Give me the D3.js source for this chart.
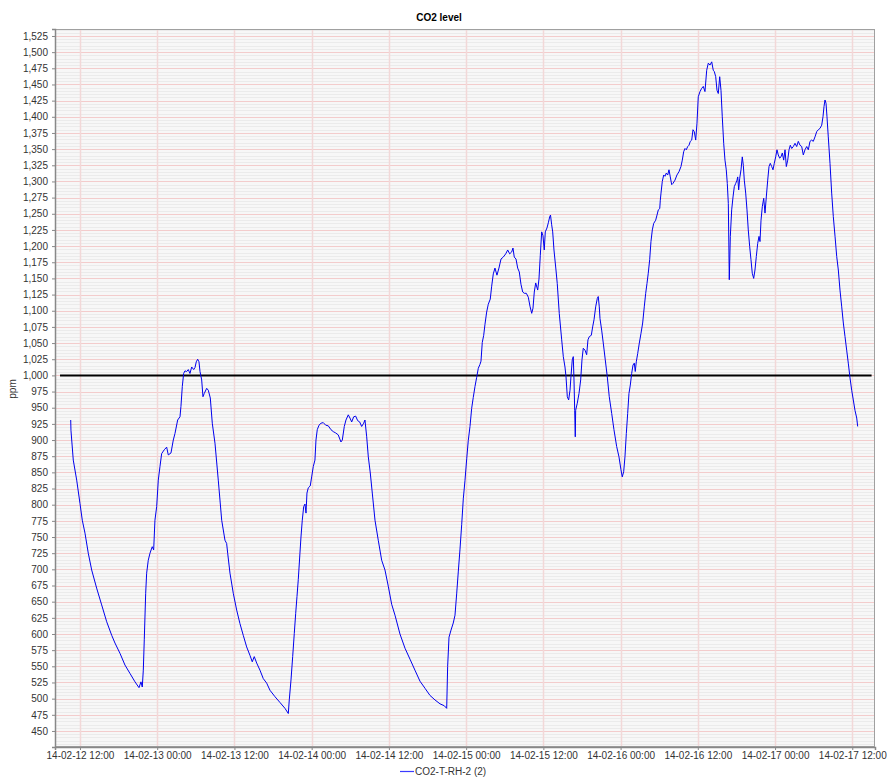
<!DOCTYPE html>
<html><head><meta charset="utf-8">
<script src="https://cdn.jsdelivr.net/npm/d3@7"></script>
<style>body{margin:0;background:#fff;} svg{display:block;font-family:"Liberation Sans",Arial,sans-serif;}</style>
</head><body><svg id="c" width="887" height="778"></svg>
<script>
const chartTitle = "CO2 level";
const seriesName = "CO2-T-RH-2 (2)";
const yAxisLabel = "ppm";
// hours since 2014-02-12 00:00
const hours = [10.56,10.60,10.96,11.49,12.00,12.36,12.78,13.29,13.82,14.59,15.37,16.15,16.93,17.44,18.22,18.99,19.77,20.55,21.17,21.48,21.68,21.84,21.99,22.21,22.36,22.61,22.88,23.23,23.45,23.65,23.92,24.17,24.43,24.69,25.10,25.47,25.72,26.14,26.50,26.76,27.18,27.54,27.69,27.90,28.11,28.31,28.58,28.83,29.09,29.36,29.67,29.87,30.07,30.29,30.49,30.65,30.91,31.11,31.31,31.69,31.94,32.25,32.56,
32.98,33.49,34.02,34.53,34.79,34.95,35.31,35.82,36.35,36.86,37.37,37.90,38.41,38.77,39.08,39.46,39.97,40.48,41.01,41.52,42.30,43.08,43.85,44.37,44.52,44.79,45.05,45.30,45.52,45.72,45.92,46.18,46.34,46.54,46.76,46.96,47.12,47.27,47.47,47.78,48.00,48.25,48.51,48.67,48.87,49.14,49.45,49.80,50.18,50.58,51.00,51.36,51.73,52.13,52.55,52.76,53.07,53.33,53.69,53.95,54.22,54.53,54.84,55.15,55.46,55.77,56.08,56.28,56.55,56.80,57.11,57.42,57.84,58.35,58.88,
59.39,59.90,60.43,60.95,61.72,62.50,63.28,64.05,64.83,65.61,66.38,67.16,67.94,68.61,68.98,69.13,69.34,69.65,70.00,70.27,70.53,70.78,71.04,71.31,71.56,71.82,72.09,72.33,72.60,72.86,73.11,73.38,73.64,73.89,74.15,74.31,74.51,74.73,74.93,75.19,75.44,75.75,75.97,76.22,76.48,76.79,77.10,77.42,77.77,78.15,78.46,78.77,79.08,79.28,79.48,79.75,80.01,80.26,80.52,80.79,81.04,81.35,81.66,81.92,82.19,82.39,82.59,82.81,83.12,83.32,83.52,83.74,83.94,84.14,84.30,84.56,84.77,84.98,
85.11,85.29,85.45,85.65,85.96,86.16,86.47,86.85,87.10,87.36,87.52,87.72,87.93,88.14,88.29,88.49,88.65,88.76,88.87,88.96,89.02,89.27,89.54,89.80,90.00,90.20,90.47,90.73,90.93,91.14,91.45,91.66,91.87,92.13,92.38,92.53,92.69,92.80,93.06,93.31,93.62,93.93,94.24,94.62,94.97,95.39,
95.75,96.06,96.26,96.48,96.68,96.89,97.10,97.30,97.51,97.72,97.93,98.13,98.28,98.44,98.66,98.91,99.17,99.43,99.68,99.90,100.10,100.30,100.52,100.72,100.93,101.14,101.45,101.66,101.86,102.08,102.17,102.28,102.48,102.70,102.90,103.10,103.32,103.52,103.72,103.94,104.14,104.45,104.76,105.07,105.38,105.59,105.80,106.01,106.21,106.43,106.63,106.83,107.05,107.25,107.45,107.67,107.87,108.07,108.34,108.60,108.85,109.11,
109.38,109.63,109.89,110.16,110.40,110.56,110.78,110.98,111.18,111.40,111.60,111.80,112.02,112.22,112.42,112.58,112.74,112.89,113.05,113.26,113.47,113.67,113.89,114.09,114.20,114.35,114.51,114.71,114.91,115.07,115.22,115.44,115.64,115.84,116.06,116.26,116.46,116.68,116.88,117.09,117.30,117.51,117.66,117.82,118.02,118.24,118.44,118.64,118.86,119.06,119.26,119.48,119.68,119.88,120.10,120.30,120.50,120.72,120.92,121.13,121.34,121.55,121.75,121.97,122.17,122.37,122.59,122.84,123.10,123.36,123.61,123.88,124.14,124.39,124.65,124.92,125.17,125.43,125.69,125.94,126.21,126.47,126.72,126.98,127.25,127.45,127.61,127.76,127.92,128.07,128.27,128.54,128.80,129.05,129.32,129.58,129.83,130.09,130.36,130.61,130.87,131.13,131.38,131.65,131.91,132.16,132.42,132.69,132.84];
const ppm = [931,915,869,838,802,776,756,725,699,671,645,619,598,586,570,552,539,526,517,526,518,544,591,663,694,714,725,735,730,776,797,838,859,879,885,889,877,880,900,910,931,936,952,983,1003,1007,1006,1009,1003,1013,1009,1012,1021,1025,1021,1006,993,967,972,980,977,965,926,
895,838,776,745,740,725,694,663,637,616,598,580,567,557,565,555,544,531,524,513,503,494,485,477,498,529,565,601,632,658,684,725,750,776,797,801,787,818,826,829,843,859,869,900,916,923,926,927,923,922,916,913,911,908,897,900,921,931,939,934,928,936,937,930,928,921,926,931,905,874,849,818,776,745,714,
699,674,646,629,600,578,561,544,527,516,505,498,492,489,485,550,595,606,617,629,662,696,730,769,809,837,871,899,921,949,966,983,997,1011,1017,1022,1051,1062,1079,1098,1110,1118,1138,1157,1166,1155,1166,1180,1183,1188,1194,1188,1191,1197,1183,1180,1166,1160,1141,1129,1127,1127,1121,1107,1096,1104,1129,1143,1132,1149,1185,1222,1216,1194,1222,1228,1236,1245,
1248,1233,1222,1194,1163,1142,1096,1055,1029,1013,998,967,962,977,998,1024,1029,993,946,905,946,957,972,993,1024,1042,1039,1032,1055,1060,1062,1075,1086,1106,1119,1122,1106,1088,1070,1050,1024,998,967,941,916,890,
874,854,843,851,874,910,941,972,985,1003,1016,1019,1006,1021,1034,1050,1065,1081,1106,1127,1142,1158,1179,1207,1225,1235,1240,1248,1256,1258,1271,1282,1300,1310,1308,1313,1310,1318,1307,1295,1297,1302,1310,1315,1323,1333,1346,1351,1349,1354,1356,1362,1364,1380,1377,1364,1390,1431,1439,1444,1447,1439,
1472,1483,1480,1485,1472,1470,1462,1441,1436,1462,1441,1400,1359,1333,1318,1297,1266,1148,1215,1256,1276,1292,1297,1302,1307,1287,1305,1318,1338,1325,1302,1282,1256,1225,1199,1179,1158,1150,1163,1184,1204,1215,1207,1240,1261,1274,1251,1276,1302,1323,1328,1323,1318,1328,1338,1349,1341,1336,1338,1344,1333,1349,1323,1333,1349,1356,1351,1354,1359,1354,1362,1356,1354,1341,1349,1354,1349,1362,1364,1362,1369,1377,1380,1382,1387,1400,1416,1426,1421,1400,1369,1328,1282,1246,1215,1184,1163,1132,1106,1081,1060,1039,1019,996,977,962,946,934,921];
const thresholdHours = [8.9, 135.0];
const thresholdValue = 1000;
const xDomainHours = [8.12, 135.53];
const yDomain = [425.2, 1535.8];
const xTickHours = [12,24,36,48,60,72,84,96,108,120,132];
const yTickValues = [450,475,500,525,550,575,600,625,650,675,700,725,750,775,800,825,850,875,900,925,950,975,1000,1025,1050,1075,1100,1125,1150,1175,1200,1225,1250,1275,1300,1325,1350,1375,1400,1425,1450,1475,1500,1525];

const base = new Date(2014, 1, 12, 0, 0, 0);
const toDate = h => new Date(base.getTime() + h * 3600000);
const data = hours.map((h, i) => ({t: toDate(h), v: ppm[i]}));

const L = 55, T = 29, R = 875, B = 747;
const svg = d3.select("#c");
const x = d3.scaleTime().domain(xDomainHours.map(toDate)).range([L, R]);
const y = d3.scaleLinear().domain(yDomain).range([B, T]);

svg.append("rect").attr("x", L).attr("y", T).attr("width", R - L).attr("height", B - T).attr("fill", "#f7f7f7");
// minor horizontal grid
const minor = d3.range(430, 1536, 5).filter(v => v % 25 !== 0);
svg.append("g").selectAll("line").data(minor).join("line")
  .attr("x1", L).attr("x2", R).attr("y1", d => Math.round(y(d)) + 0.5).attr("y2", d => Math.round(y(d)) + 0.5)
  .attr("stroke", "#ebebeb").attr("stroke-width", 1);
// major horizontal grid
svg.append("g").selectAll("line").data(yTickValues).join("line")
  .attr("x1", L).attr("x2", R).attr("y1", d => Math.round(y(d)) + 0.5).attr("y2", d => Math.round(y(d)) + 0.5)
  .attr("stroke", "#f3cccc").attr("stroke-width", 1);
// vertical grid
svg.append("g").selectAll("line").data(xTickHours).join("line")
  .attr("y1", T).attr("y2", B).attr("x1", d => Math.round(x(toDate(d))) + 0.5).attr("x2", d => Math.round(x(toDate(d))) + 0.5)
  .attr("stroke", "#f2d8d8").attr("stroke-width", 1.5);

svg.append("defs").append("clipPath").attr("id", "clip").append("rect")
  .attr("x", L).attr("y", T).attr("width", R - L).attr("height", B - T);

// threshold marker
svg.append("line")
  .attr("x1", x(toDate(thresholdHours[0]))).attr("x2", x(toDate(thresholdHours[1])))
  .attr("y1", y(thresholdValue)).attr("y2", y(thresholdValue))
  .attr("stroke", "#000").attr("stroke-width", 2);

const line = d3.line().x(d => x(d.t)).y(d => y(d.v));
svg.append("path").datum(data).attr("clip-path", "url(#clip)")
  .attr("d", line).attr("fill", "none").attr("stroke", "#0000ee").attr("stroke-width", 1);

// outline
svg.append("rect").attr("x", L + 0.5).attr("y", T + 0.5).attr("width", R - L - 1).attr("height", B - T - 1)
  .attr("fill", "none").attr("stroke", "#a0a0a0").attr("stroke-width", 1);

// axes
const fmtY = d3.format(",");
const yAxis = svg.append("g").attr("transform", `translate(${L},0)`)
  .call(d3.axisLeft(y).tickValues(yTickValues).tickFormat(fmtY).tickSize(3).tickPadding(4));
const xAxis = svg.append("g").attr("transform", `translate(0,${B})`)
  .call(d3.axisBottom(x).tickValues(xTickHours.map(toDate)).tickFormat(d3.timeFormat("%y-%m-%d %H:%M")).tickSize(3).tickPadding(2));
[yAxis, xAxis].forEach(g => {
  g.select(".domain").attr("stroke", "#888").attr("stroke-width", 1.5);
  g.selectAll(".tick line").attr("stroke", "#888");
  g.selectAll(".tick text").attr("fill", "#333").style("font-size", "10px").style("font-family", "'Liberation Sans',Arial,sans-serif");
});

svg.append("text").attr("x", 439).attr("y", 21).attr("text-anchor", "middle")
  .style("font-size", "10px").style("font-weight", "bold").attr("fill", "#000").text(chartTitle);
svg.append("text").attr("transform", "translate(16,389) rotate(-90)").attr("text-anchor", "middle")
  .style("font-size", "10px").attr("fill", "#333").text(yAxisLabel);

// legend
svg.append("line").attr("x1", 400).attr("x2", 414).attr("y1", 771.5).attr("y2", 771.5)
  .attr("stroke", "#3b3bff").attr("stroke-width", 1.2);
svg.append("text").attr("x", 415).attr("y", 775).style("font-size", "10px").attr("fill", "#333").text(seriesName);
</script></body></html>
